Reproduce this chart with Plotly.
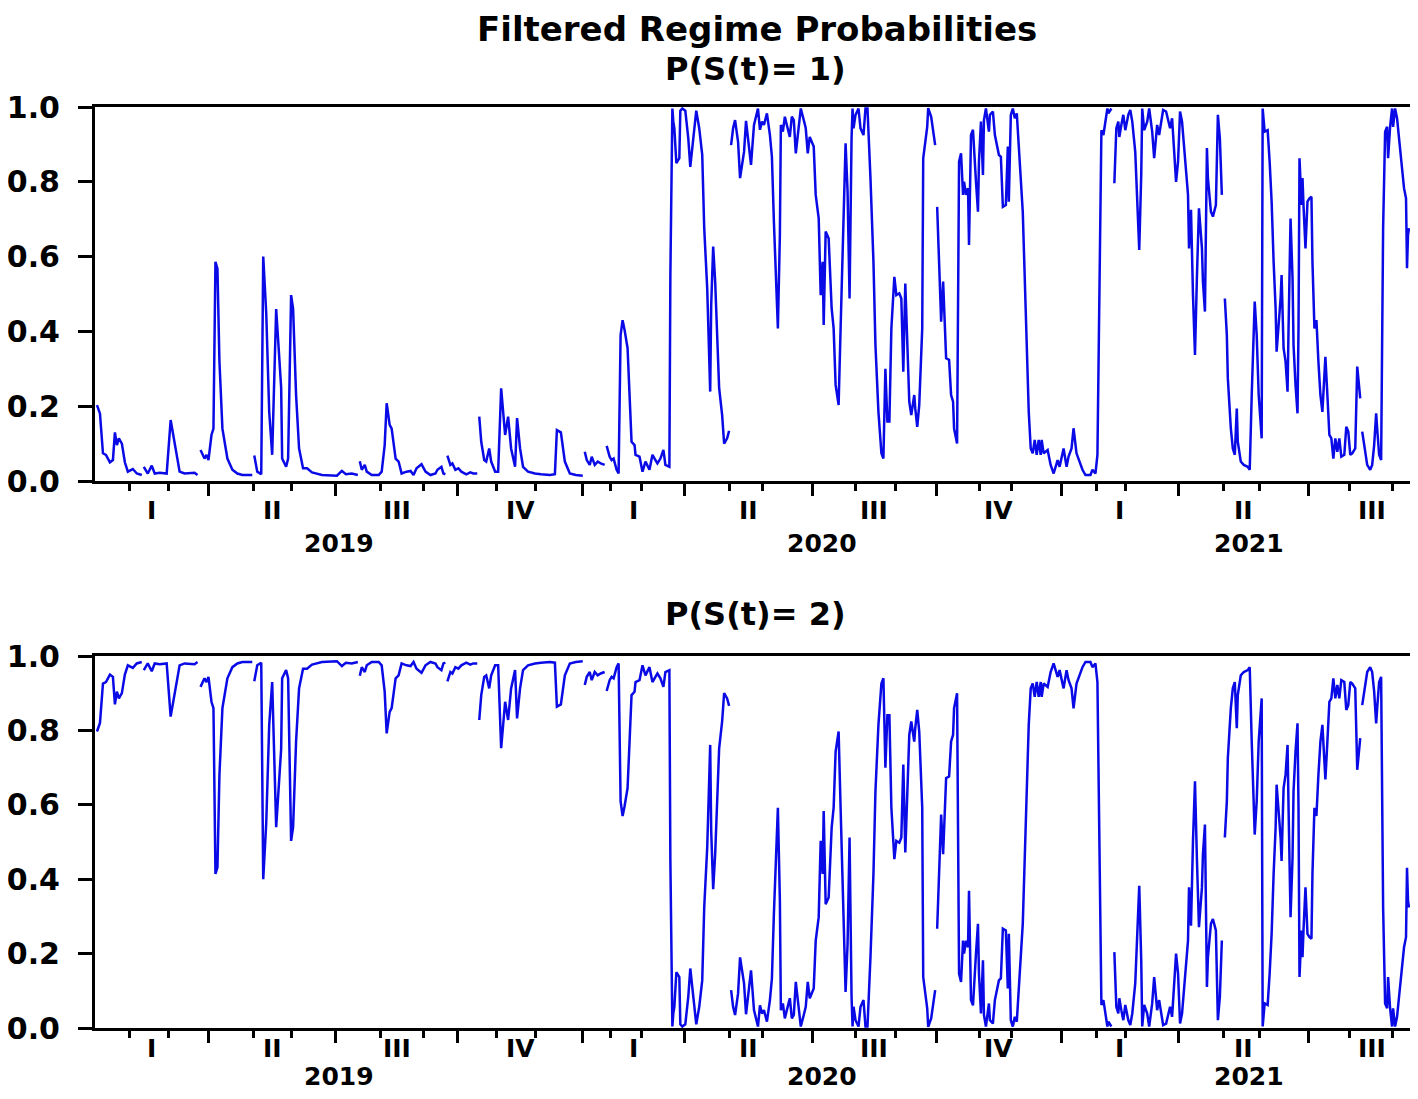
import plotly.graph_objects as go

# ---------------- data (observation index along the EViews axis) ----------------
obs = [2, 5, 8, 11, 15, 18, 20, 22, 24, 27, 30, 33, 38, 42, 47, 48,
       49, 53, 57, 60, 65, 72, 76, 78, 82, 85, 90, 95, 100, 103, 104,
       106, 110, 112, 114, 117, 119, 121, 123, 125, 128, 133, 138, 143, 148, 158, 159,
       160, 163, 167, 169, 172, 175, 178, 182, 187, 188, 192, 194, 197, 199, 202, 205,
       209, 213, 218, 228, 243, 248, 252, 258, 264, 265,
       266, 268, 271, 273, 278, 285, 288, 291, 293, 296, 298, 302, 305, 308, 313, 317,
       320, 323, 328, 332, 337, 342, 344, 348, 350, 352, 353,
       354, 357, 359, 362, 365, 368, 373, 377, 380, 384, 385,
       386, 388, 391, 393, 396, 398, 402, 405, 408, 410, 412, 415, 418, 422, 424, 427,
       430, 435, 442, 448, 457, 462, 464, 468, 472, 477, 483, 490, 491,
       492, 494, 497, 499, 502, 505, 508, 512, 513,
       514, 517, 519, 521, 524, 526, 528, 530, 532, 535, 539, 542, 543, 547, 550, 553,
       557, 560, 563, 565, 568, 571, 573, 577, 578, 580, 581, 582, 584, 587, 588, 590,
       593, 596, 598, 602, 604, 607, 610, 612, 615, 618, 619, 621, 623, 627, 630, 632,
       635, 637, 638,
       639, 641, 643, 646, 648, 650, 652, 654, 657, 659, 662, 664, 666, 668, 670, 672,
       675, 678, 680, 682, 684, 686, 688, 689, 691, 693, 695, 698, 700, 702, 704, 707,
       709, 712, 714, 716, 718, 722, 724, 727, 729, 731, 732, 734, 737, 740, 742, 744,
       747, 749, 752, 754, 756, 758, 760, 761, 762, 764, 767, 769, 772, 774, 776, 777,
       779, 782, 784, 787, 790, 792, 794, 796, 798, 800, 803, 805, 808, 810, 812, 814,
       816, 818, 820, 823, 824, 826, 828, 831, 832, 834, 836, 837, 840, 844, 845,
       846, 848, 850, 852, 854, 855, 858, 860, 862, 863, 866, 868, 870, 872, 873, 875,
       877, 878, 880, 882, 885, 887, 888, 890, 892, 893, 895, 898, 899, 902, 904, 908,
       910, 912, 915, 917, 918, 920, 922, 924, 926, 928, 932, 935, 938, 940, 942, 944,
       946, 948, 950, 951, 953, 957, 960, 963, 967, 969, 973, 976, 978, 981, 983, 986,
       988, 992, 995, 1000, 1002, 1005, 1007, 1008, 1010, 1011, 1013, 1015, 1017, 1018, 1021, 1022,
       1024, 1026, 1028, 1029, 1031, 1033, 1035, 1038, 1040, 1042, 1045, 1047, 1049, 1051, 1052, 1054,
       1057, 1059, 1062, 1064, 1067, 1069, 1071, 1073, 1076, 1078, 1080, 1082, 1084, 1086, 1088, 1090,
       1092, 1095, 1098, 1099, 1101, 1103, 1105, 1107, 1109, 1112, 1113, 1115, 1117, 1118, 1121, 1123,
       1126, 1128, 1130, 1132, 1133,
       1135, 1137, 1138, 1141, 1143, 1145, 1147, 1148, 1151, 1154, 1158, 1160, 1162, 1165, 1167, 1169,
       1172, 1173, 1175, 1178, 1180, 1182, 1184, 1186, 1187, 1189, 1191, 1192, 1194, 1196, 1198, 1199,
       1201, 1203, 1204, 1206, 1208, 1209, 1210, 1212, 1213, 1214, 1216, 1218, 1220, 1222, 1223, 1225,
       1227, 1229, 1231, 1233, 1234, 1236, 1238, 1240, 1242, 1244, 1246, 1248, 1250, 1252, 1255, 1257,
       1259, 1261, 1263, 1266, 1268, 1270, 1271, 1272,
       1273, 1276, 1278, 1281, 1283, 1285, 1287, 1288, 1290, 1292, 1293, 1294, 1296, 1298, 1299, 1301,
       1303, 1304, 1306, 1308, 1310, 1312, 1315, 1317, 1318, 1319, 1320]

p1 = [.203, .18, .074, .07, .05, .056, .13, .096, .114, .10, .05, .025, .032, .02, .016, None,
      .038, .02, .041, .02, .022, .02, .163, .132, .06, .025, .02, .02, .022, .016, None,
      .083, .06, .07, .056, .123, .14, .586, .568, .32, .14, .06, .03, .02, .016, .016, None,
      .068, .025, .018, .60, .45, .185, .07, .46, .25, .06, .038, .06, .497, .46, .23, .087,
      .034, .034, .023, .016, .014, .027, .018, .02, .016, None,
      .053, .03, .043, .025, .016, .016, .025, .096, .208, .15, .14, .06, .052, .02, .025, .027,
      .016, .034, .045, .025, .016, .02, .03, .038, .02, .018, None,
      .068, .043, .047, .03, .034, .025, .018, .023, .02, .02, None,
      .172, .105, .056, .052, .087, .052, .025, .025, .248, .194, .123, .172, .087, .038, .168, .087,
      .038, .025, .02, .018, .016, .018, .136, .13, .052, .02, .016, .014, None,
      .078, .056, .043, .065, .043, .052, .047, .043, None,
      .094, .065, .056, .06, .03, .02, .39, .43, .404, .355, .105, .096, .07, .065, .025, .052,
      .03, .07, .056, .047, .06, .083, .043, .038, .55, .996, .96, .943, .85, .863, .99, .996,
      .99, .916, .84, .943, .99, .943, .872, .676, .515, .239, .47, .627, .533, .248, .176, .10,
      .114, .134, None,
      .898, .943, .965, .907, .81, .853, .88, .963, .898, .845, .952, .979, .996, .939, .961, .952,
      .983, .925, .867, .693, .533, .408, .658, .952, .934, .974, .952, .92, .974, .965, .876, .943,
      .996, .965, .943, .876, .92, .894, .765, .702, .497, .586, .417, .667, .649, .462, .408, .257,
      .203, .408, .676, .903, .774, .488, .916, .996, .943, .979, .996, .943, .925, .996, .996, .916,
      .81, .586, .364, .185, .074, .06, .30, .159, .159, .408, .546, .497, .502, .488, .292, .528,
      .346, .212, .176, .23, .194, .145, .203, .408, .863, .907, .947, .997, .974, .898, None,
      .733, .586, .426, .533, .417, .328, .324, .23, .212, .14, .10, .854, .876, .765, .80, .765,
      .783, .631, .925, .939, .80, .72, .854, .961, .818, .965, .996, .934, .979, .988, .925, .872,
      .867, .733, .738, .894, .747, .979, .996, .97, .983, .898, .72, .453, .185, .087, .074, .11,
      .07, .11, .07, .11, .074, .083, .043, .02, .056, .038, .087, .038, .065, .087, .141, .074,
      .06, .03, .016, .016, .03, .02, .07, .32, .765, .938, .925, .965, .996, .983, .996, None,
      .796, .943, .961, .92, .952, .979, .938, .979, .992, .961, .88, .765, .618, .818, .996, .938,
      .961, .996, .934, .863, .952, .925, .961, .992, .988, .961, .943, .97, .898, .80, .854, .988,
      .961, .872, .765, .622, .725, .497, .337, .551, .729, .622, .533, .453, .89, .81, .72, .707,
      .738, .979, .916, .765, None,
      .488, .39, .275, .141, .087, .07, .194, .105, .052, .043, .038, .03, .23, .48, .39, .23,
      .114, .996, .934, .938, .854, .747, .586, .462, .346, .408, .488, .551, .355, .319, .239, .408,
      .702, .542, .364, .257, .181, .408, .863, .738, .81, .738, .622, .747, .756, .76, .586, .408,
      .43, .319, .23, .185, .248, .332, .23, .123, .114, .06, .114, .078, .114, .065, .07, .145,
      .132, .07, .074, .087, .306, .257, .221, None,
      .132, .07, .043, .03, .043, .096, .181, .141, .07, .056, .319, .676, .934, .947, .863, .947,
      .996, .947, .996, .97, .916, .854, .783, .756, .569, .658, .676]

# two-regime model: filtered probabilities of the two regimes sum to one
p2 = [None if v is None else 1 - v for v in p1]

quarter_bounds = [0, 114, 242, 364, 490, 592, 721, 845, 971, 1088, 1219, 1347]
quarter_names = ["I", "II", "III", "IV", "I", "II", "III", "IV", "I", "II", "III"]
month_ticks = [35, 74, 159, 197, 287, 330, 403, 443, 518, 549, 637, 671,
               764, 804, 889, 921, 1006, 1035, 1134, 1170, 1260, 1303]
year_bounds = [0, 490, 971, 1347]
year_names = ["2019", "2020", "2021"]
y_ticks = [0.0, 0.2, 0.4, 0.6, 0.8, 1.0]

# ---------------- figure ----------------
# page has an 8px body margin: size the figure to fit the window and
# express positions in window pixels
OFF = 8
FW, FH = 1418 - 2 * OFF, 1099 - 2 * OFF
FONT = "DejaVu Sans"
BLUE = "rgb(10,10,230)"
X_RANGE = [0, 1321]

def px(p):
    return (p - OFF) / FW

def py(p):
    return 1 - (p - OFF) / FH

fig = go.Figure()
fig.add_trace(go.Scatter(x=obs, y=p1, mode="lines", line=dict(color=BLUE, width=2.5),
                         connectgaps=False, xaxis="x", yaxis="y", hoverinfo="skip"))
fig.add_trace(go.Scatter(x=obs, y=p2, mode="lines", line=dict(color=BLUE, width=2.5),
                         connectgaps=False, xaxis="x2", yaxis="y2", hoverinfo="skip"))

xdom = [px(95), min(1.0, px(1416))]
common_x = dict(
    domain=xdom, range=X_RANGE, showgrid=False, zeroline=False, automargin=False,
    showline=True, linecolor="black", linewidth=3, mirror=True,
    tickmode="array", tickvals=quarter_bounds[1:-1], ticks="outside",
    ticklen=12, tickwidth=2.5, tickcolor="black", showticklabels=False,
    minor=dict(tickmode="array", tickvals=month_ticks, ticks="outside",
               ticklen=7, tickwidth=2.5, tickcolor="black", showgrid=False),
)
common_y = dict(
    range=[0, 1], showgrid=False, zeroline=False, automargin=False,
    showline=True, linecolor="black", linewidth=3, mirror=True,
    tickmode="array", tickvals=y_ticks, ticktext=[f"{v:.1f}" for v in y_ticks],
    ticks="outside", ticklen=14, tickwidth=3, tickcolor="black",
    ticklabelstandoff=12,
    tickfont=dict(family=FONT, size=30, color="black", weight="bold"),
)

fig.update_layout(
    template="none",
    width=FW, height=FH, margin=dict(l=0, r=0, t=0, b=0, pad=0, autoexpand=False),
    paper_bgcolor="white", plot_bgcolor="white", showlegend=False,
    xaxis=dict(anchor="y", **common_x),
    xaxis2=dict(anchor="y2", **common_x),
    yaxis=dict(anchor="x", domain=[py(481), py(107)], **common_y),
    yaxis2=dict(anchor="x2", domain=[py(1028), py(656)], **common_y),
)

ann = []
lab_font = dict(family=FONT, size=25, color="black", weight="bold")
for xa, qy, yy in (("x", 510, 544), ("x2", 1048, 1076)):
    for i, name in enumerate(quarter_names):
        ann.append(dict(x=(quarter_bounds[i] + quarter_bounds[i + 1]) / 2, xref=xa,
                        y=py(qy), yref="paper", text=name, showarrow=False,
                        xanchor="center", yanchor="middle", font=lab_font))
    for i, name in enumerate(year_names):
        ann.append(dict(x=(year_bounds[i] + year_bounds[i + 1]) / 2, xref=xa,
                        y=py(yy), yref="paper", text=name, showarrow=False,
                        xanchor="center", yanchor="middle", font=lab_font))

ann.append(dict(x=px(757), xref="paper", y=py(29), yref="paper",
                text="Filtered Regime Probabilities", showarrow=False,
                xanchor="center", yanchor="middle",
                font=dict(family=FONT, size=34, color="black", weight="bold")))
ann.append(dict(x=px(756), xref="paper", y=py(69), yref="paper",
                text="P(S(t)= 1)", showarrow=False, xanchor="center", yanchor="middle",
                font=dict(family=FONT, size=32, color="black", weight="bold")))
ann.append(dict(x=px(756), xref="paper", y=py(614), yref="paper",
                text="P(S(t)= 2)", showarrow=False, xanchor="center", yanchor="middle",
                font=dict(family=FONT, size=32, color="black", weight="bold")))
fig.update_layout(annotations=ann)

fig.write_html("out.html")
